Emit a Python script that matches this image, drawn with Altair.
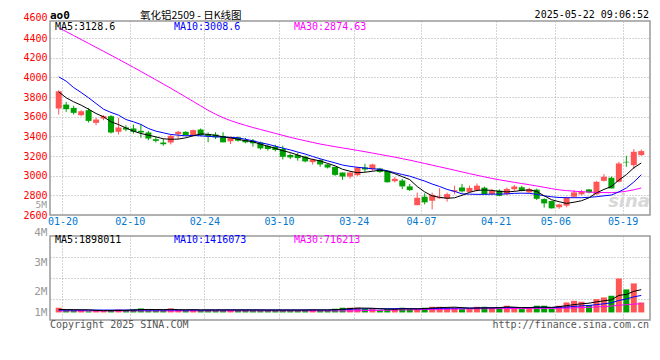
import altair as alt
import pandas as pd

# ---------------- data ----------------
dates = ["01-17", "01-20", "01-21", "01-22", "01-23", "01-24", "01-27",
         "02-05", "02-06", "02-07", "02-10", "02-11", "02-12", "02-13", "02-14",
         "02-17", "02-18", "02-19", "02-20", "02-21", "02-24", "02-25", "02-26",
         "02-27", "02-28",
         "03-03", "03-04", "03-05", "03-06", "03-07", "03-10", "03-11", "03-12",
         "03-13", "03-14", "03-17", "03-18", "03-19", "03-20", "03-21", "03-24",
         "03-25", "03-26", "03-27", "03-28", "03-31",
         "04-01", "04-02", "04-03", "04-07", "04-08", "04-09", "04-10", "04-11",
         "04-14", "04-15", "04-16", "04-17", "04-18", "04-21", "04-22", "04-23",
         "04-24", "04-25", "04-28", "04-29", "04-30",
         "05-06", "05-07", "05-08", "05-09", "05-12", "05-13", "05-14", "05-15",
         "05-16", "05-19", "05-20", "05-21"]

opens = [3683, 3723, 3689, 3615, 3666, 3537, 3581, 3605, 3446, 3490,
         3480, 3456, 3439, 3371, 3337, 3337, 3422, 3446, 3412, 3469,
         3420, 3418, 3404, 3349, 3390, 3363, 3356, 3336, 3302, 3295,
         3271, 3210, 3210, 3193, 3138, 3158, 3114, 3090, 3032, 2991,
         3005, 3083, 3066, 3073, 3049, 2944, 2951, 2891, 2700, 2786,
         2745, 2770, 2769, 2838, 2880, 2835, 2850, 2878, 2812, 2848,
         2812, 2862, 2882, 2830, 2858, 2762, 2742, 2678, 2695, 2786,
         2810, 2860, 2810, 2948, 2979, 2938, 3141, 3107, 3209]
highs = [3868, 3750, 3710, 3666, 3689, 3591, 3615, 3615, 3588, 3513,
         3520, 3520, 3456, 3395, 3378, 3419, 3456, 3452, 3469, 3480,
         3440, 3442, 3442, 3394, 3397, 3384, 3373, 3346, 3315, 3315,
         3305, 3227, 3233, 3203, 3175, 3169, 3121, 3090, 3032, 3032,
         3090, 3121, 3121, 3080, 3052, 2986, 2968, 2916, 2828, 2820,
         2828, 2873, 2828, 2898, 2916, 2898, 2920, 2888, 2865, 2860,
         2880, 2905, 2898, 2878, 2868, 2770, 2745, 2715, 2786, 2854,
         2855, 2865, 2945, 3016, 2990, 3141, 3202, 3270, 3266]
lows = [3621, 3649, 3621, 3605, 3540, 3513, 3564, 3429, 3419, 3452,
        3429, 3385, 3361, 3337, 3304, 3317, 3371, 3405, 3402, 3402,
        3340, 3373, 3339, 3322, 3346, 3329, 3295, 3264, 3254, 3247,
        3165, 3169, 3152, 3135, 3114, 3090, 3073, 2998, 2957, 2971,
        2998, 3039, 3049, 3028, 2930, 2933, 2863, 2846, 2699, 2708,
        2657, 2765, 2735, 2810, 2828, 2828, 2840, 2810, 2805, 2790,
        2805, 2845, 2840, 2825, 2752, 2675, 2665, 2662, 2678, 2780,
        2800, 2820, 2805, 2940, 2870, 2932, 3090, 3067, 3202]
closes = [3858, 3676, 3639, 3655, 3557, 3571, 3605, 3439, 3490, 3469,
          3446, 3439, 3378, 3354, 3320, 3405, 3446, 3412, 3463, 3412,
          3400, 3390, 3339, 3394, 3356, 3339, 3329, 3278, 3271, 3261,
          3192, 3186, 3179, 3145, 3165, 3114, 3083, 3008, 2991, 3032,
          3083, 3063, 3114, 3038, 2933, 2968, 2891, 2853, 2775, 2729,
          2805, 2782, 2812, 2852, 2840, 2875, 2898, 2812, 2848, 2795,
          2865, 2890, 2845, 2865, 2765, 2718, 2668, 2708, 2776, 2830,
          2837, 2830, 2938, 2989, 2870, 3124, 3135, 3243, 3250]

volumes_m = [0.39, 0.2, 0.2, 0.2, 0.1, 0.12, 0.12, 0.2, 0.25, 0.2, 0.25,
             0.33, 0.22, 0.2, 0.2, 0.33, 0.22, 0.2, 0.22, 0.2, 0.22,
             0.2, 0.2, 0.22, 0.2, 0.22, 0.2, 0.2, 0.2, 0.2, 0.2, 0.2, 0.2, 0.22, 0.25, 0.2, 0.19,
             0.31, 0.39, 0.39, 0.39, 0.28, 0.28, 0.19, 0.28, 0.28, 0.39, 0.28, 0.28, 0.39,
             0.47, 0.47, 0.39, 0.39, 0.28, 0.28, 0.47, 0.47, 0.39, 0.39, 0.56, 0.39, 0.28,
             0.39, 0.56, 0.56, 0.33, 0.56, 0.83, 0.97, 0.89, 0.61, 1.11, 1.25, 1.39, 2.83,
             1.92, 2.42, 0.83]

ma5 = [3852, 3792, 3751, 3717, 3676, 3632, 3599, 3548, 3520, 3485,
       3453, 3429, 3412, 3395, 3375, 3370, 3372, 3385, 3405, 3425,
       3420, 3410, 3395, 3385, 3370, 3356, 3345, 3320, 3300, 3278,
       3254, 3235, 3210, 3185, 3165, 3150, 3125, 3100, 3065, 3045,
       3030, 3035, 3045, 3055, 3045, 3020, 2990, 2960, 2890, 2835,
       2795, 2780, 2770, 2775, 2800, 2830, 2850, 2855, 2850, 2840,
       2835, 2840, 2850, 2855, 2840, 2795, 2755, 2735, 2718, 2730,
       2745, 2775, 2825, 2860, 2890, 2955, 3010, 3080, 3128.6]
ma10 = [4005, 3961, 3896, 3846, 3792, 3734, 3676, 3643, 3616, 3571,
        3548, 3521, 3480, 3453, 3436, 3419, 3412, 3405, 3410, 3405,
        3400, 3395, 3393, 3390, 3385, 3370, 3355, 3335, 3320, 3300,
        3280, 3262, 3240, 3220, 3195, 3172, 3150, 3130, 3108, 3095,
        3085, 3078, 3070, 3065, 3050, 3030, 3012, 2995, 2970, 2945,
        2915, 2890, 2860, 2840, 2815, 2812, 2810, 2810, 2812, 2812,
        2815, 2820, 2822, 2820, 2810, 2795, 2785, 2778, 2776, 2776,
        2776, 2780, 2786, 2795, 2803, 2835, 2875, 2935, 3008.6]
ma30 = [4505, 4465, 4425, 4385, 4345, 4305, 4265, 4225, 4184, 4143,
        4102, 4060, 4018, 3975, 3932, 3889, 3845, 3800, 3755, 3710,
        3665, 3625, 3590, 3560, 3535, 3512, 3490, 3470, 3450, 3430,
        3410, 3390, 3372, 3355, 3338, 3322, 3308, 3295, 3282, 3270,
        3257, 3244, 3230, 3216, 3202, 3188, 3173, 3158, 3141, 3124,
        3107, 3090, 3073, 3056, 3038, 3021, 3004, 2988, 2972, 2958,
        2945, 2932, 2920, 2908, 2895, 2882, 2868, 2856, 2848, 2842,
        2837, 2833, 2830, 2828, 2827, 2832, 2842, 2856, 2874.63]

vol_ma5_m = [0.25, 0.24, 0.23, 0.22, 0.22, 0.17, 0.15,
             0.15, 0.16, 0.18, 0.2, 0.24, 0.25, 0.24, 0.23, 0.26, 0.23, 0.22, 0.23, 0.21, 0.21,
             0.21, 0.21, 0.21, 0.21, 0.21, 0.21, 0.21, 0.2, 0.2, 0.2, 0.2, 0.2, 0.2, 0.21, 0.21, 0.21,
             0.23, 0.27, 0.32, 0.37, 0.36, 0.35, 0.31, 0.28, 0.26, 0.3, 0.3, 0.3, 0.32,
             0.37, 0.4, 0.42, 0.44, 0.4, 0.36, 0.37, 0.38, 0.38, 0.4, 0.46, 0.44, 0.4, 0.4,
             0.44, 0.44, 0.42, 0.48,
             0.57, 0.65, 0.72, 0.77, 0.88, 0.97, 1.05, 1.42, 1.5, 1.76, 1.898]
vol_ma10_m = [0.2] * 21 + [0.21] * 16 + \
             [0.22, 0.24, 0.26, 0.29, 0.3, 0.31, 0.31, 0.31, 0.32, 0.33, 0.32, 0.31, 0.3] + \
             [0.32, 0.34, 0.35, 0.36, 0.36, 0.36, 0.37, 0.38, 0.39, 0.4, 0.41, 0.41, 0.41,
              0.41, 0.42, 0.43, 0.41, 0.43] + \
             [0.45, 0.5, 0.55, 0.58, 0.65, 0.72, 0.8, 1.0, 1.12, 1.3, 1.416]
vol_ma30_m = [0.13] * 41 + \
             [0.16, 0.17, 0.18, 0.19, 0.2, 0.21, 0.22, 0.23, 0.24, 0.25, 0.26, 0.27, 0.28,
              0.29, 0.3] + \
             [0.3, 0.31, 0.31, 0.32, 0.32, 0.33, 0.33, 0.33, 0.34, 0.34, 0.34, 0.35] + \
             [0.36, 0.38, 0.41, 0.43, 0.46, 0.49, 0.53, 0.6, 0.64, 0.7, 0.716]

# axis ticks / labels
date_tick_idx = [1, 10, 20, 30, 40, 49, 59, 67, 76]
price_ticks = [2600, 2800, 3000, 3200, 3400, 3600, 3800, 4000, 4200, 4400]
price_top = 4573          # value at the panel's top border
price_top_label = "4600"
vol_domain = [-0.63e6, 6.37e6]
vol_label_values = [0, 1.73e6, 4.17e6, 6.37e6]
vol_label_texts = ["1M", "2M", "3M", "4M"]
vol_grid_values = [1.12e6, 2.87e6, 4.62e6]

symbol_text = "ao0"
title_text = "氧化铝2509 - 日K线图"
stamp_text = "2025-05-22 09:06:52"
price_heads = ["MA5:3128.6", "MA10:3008.6", "MA30:2874.63"]
vol_heads = ["MA5:1898011", "MA10:1416073", "MA30:716213"]
extra_vol_label = "5M"
copyright_text = "Copyright 2025 SINA.COM"
url_text = "http://finance.sina.com.cn"
watermark_text = "sina"

# ---------------- styling ----------------
MONO = "DejaVu Sans Mono"
CJK = "Noto Sans CJK SC"
RED = "#ff5555"
GREEN = "#00a000"
C5, C10, C30 = "#000000", "#0000ff", "#ff00ff"
GRID = "#aaaaaa"
BORDER = "#999999"
W, PH, VH = 600, 194, 84

n = len(dates)
df = pd.DataFrame({
    "i": list(range(n)), "date": dates,
    "open": opens, "high": highs, "low": lows, "close": closes,
    "vol": [v * 1e6 for v in volumes_m],
    "ma5": ma5, "ma10": ma10, "ma30": ma30,
    "vma5": [v * 1e6 for v in vol_ma5_m],
    "vma10": [v * 1e6 for v in vol_ma10_m],
    "vma30": [v * 1e6 for v in vol_ma30_m],
})
df["dir"] = ["up" if c >= o else "down" for o, c in zip(opens, closes)]

date_expr = "[" + ",".join("'%s'" % d for d in dates) + "][datum.value]"
x_scale = alt.Scale(domain=[0, n], nice=False, zero=False)

x_price = alt.X("xc:Q", scale=x_scale, title=None, axis=alt.Axis(
    values=date_tick_idx, labelExpr=date_expr, grid=True, gridColor=GRID,
    gridDash=[1, 2], ticks=False, domain=False, labelColor="#0078d0",
    labelFont=MONO, labelFontSize=10, labelPadding=1, labelFlush=False,
    labelOverlap=False))
x_vol = alt.X("xc:Q", scale=x_scale, title=None, axis=alt.Axis(
    values=date_tick_idx, labels=False, grid=True, gridColor=GRID,
    gridDash=[1, 2], ticks=False, domain=False))

p_scale = alt.Scale(domain=[2600, price_top], nice=False, zero=False)
top_test = "datum.value > %d" % (price_top - 50)
p_axis = alt.Axis(
    values=price_ticks + [price_top],
    labelExpr="%s ? '%s' : format(datum.value, 'd')" % (top_test, price_top_label),
    grid=True, gridColor=GRID, gridDash=[1, 2],
    gridOpacity={"condition": {"test": top_test, "value": 0}, "value": 1},
    labelOffset={"condition": {"test": top_test, "value": -4}, "value": 0},
    ticks=False, domain=False, labelColor="#ff0000", labelFont=MONO,
    labelFontSize=10, labelPadding=3, labelOverlap=False, labelFlush=False)

v_scale = alt.Scale(domain=vol_domain, nice=False, zero=False)
lab_parts = " : ".join("datum.value == %d ? '%s'" % (v, t)
                       for v, t in zip(vol_label_values, vol_label_texts)) + " : ''"
grid_test = " || ".join("datum.value == %d" % v for v in vol_grid_values)
v_axis = alt.Axis(
    values=vol_label_values + vol_grid_values, labelExpr=lab_parts,
    grid=True, gridColor=GRID, gridDash=[1, 2],
    gridOpacity={"condition": {"test": grid_test, "value": 1}, "value": 0},
    labelOffset={"condition": {"test": "datum.value == %d" % vol_label_values[-1],
                               "value": -4}, "value": 0},
    ticks=False, domain=False, labelColor="#999999", labelFont=MONO,
    labelFontSize=11, labelPadding=3, labelOverlap=False, labelFlush=False)

color = alt.Color("dir:N", scale=alt.Scale(domain=["up", "down"], range=[RED, GREEN]),
                  legend=None)

base = alt.Chart(df).transform_calculate(xc="datum.i + 0.5")


def txt(text, x, y, col, size=10, align="left", font=MONO, weight="normal",
        style="normal"):
    return alt.Chart(pd.DataFrame({"t": [text]})).mark_text(
        align=align, baseline="middle", color=col, fontSize=size, font=font,
        fontWeight=weight, fontStyle=style
    ).encode(x=alt.value(x), y=alt.value(y), text="t:N")


wick = base.mark_rule(strokeWidth=1).encode(
    x=x_price, y=alt.Y("low:Q", scale=p_scale, axis=p_axis, title=None),
    y2="high:Q", color=color)
body = base.mark_bar(size=6).encode(
    x=x_price, y=alt.Y("open:Q", scale=p_scale, axis=p_axis, title=None),
    y2="close:Q", color=color)
p_lines = [base.mark_line(color=c, strokeWidth=1).encode(
    x=x_price, y=alt.Y(f + ":Q", scale=p_scale, axis=p_axis, title=None))
    for f, c in [("ma30", C30), ("ma10", C10), ("ma5", C5)]]

price_texts = [
    txt(symbol_text, 0, -5.5, "#000000", size=11, weight="bold"),
    txt(title_text, 90, -5, "#000000", size=10.5, font=CJK),
    txt(stamp_text, 599, -6, "#000000", align="right"),
    txt(price_heads[0], 5, 6, C5),
    txt(price_heads[1], 124, 6, C10),
    txt(price_heads[2], 244, 6, C30),
    txt(extra_vol_label, -3, 184.3, "#999999", size=9.5, align="right"),
    txt(watermark_text, 600, 181, "#d8d8d8", size=18, align="right",
        font="DejaVu Sans", weight="bold", style="italic"),
]

price = alt.layer(wick, body, *p_lines, *price_texts).properties(width=W, height=PH)

vbars = base.mark_bar(size=6).encode(
    x=x_vol, y=alt.Y("vol:Q", scale=v_scale, axis=v_axis, title=None),
    y2=alt.datum(0), color=color)
v_lines = [base.mark_line(color=c, strokeWidth=1).encode(
    x=x_vol, y=alt.Y(f + ":Q", scale=v_scale, axis=v_axis, title=None))
    for f, c in [("vma30", C30), ("vma10", C10), ("vma5", C5)]]
vol_texts = [
    txt(vol_heads[0], 5, 4, C5),
    txt(vol_heads[1], 124, 4, C10),
    txt(vol_heads[2], 244, 4, C30),
    txt(copyright_text, 0, VH + 5, "#555555"),
    txt(url_text, 599, VH + 5, "#555555", align="right"),
]
volume = alt.layer(vbars, *v_lines, *vol_texts).properties(width=W, height=VH)

chart = alt.vconcat(price, volume, spacing=21, bounds="flush").properties(
    padding={"left": 14, "top": 0, "right": 0, "bottom": 0},
    background="white",
).configure_view(stroke=BORDER, strokeWidth=1.5)

chart.save("out.html", embed_options={"renderer": "svg", "actions": False})
